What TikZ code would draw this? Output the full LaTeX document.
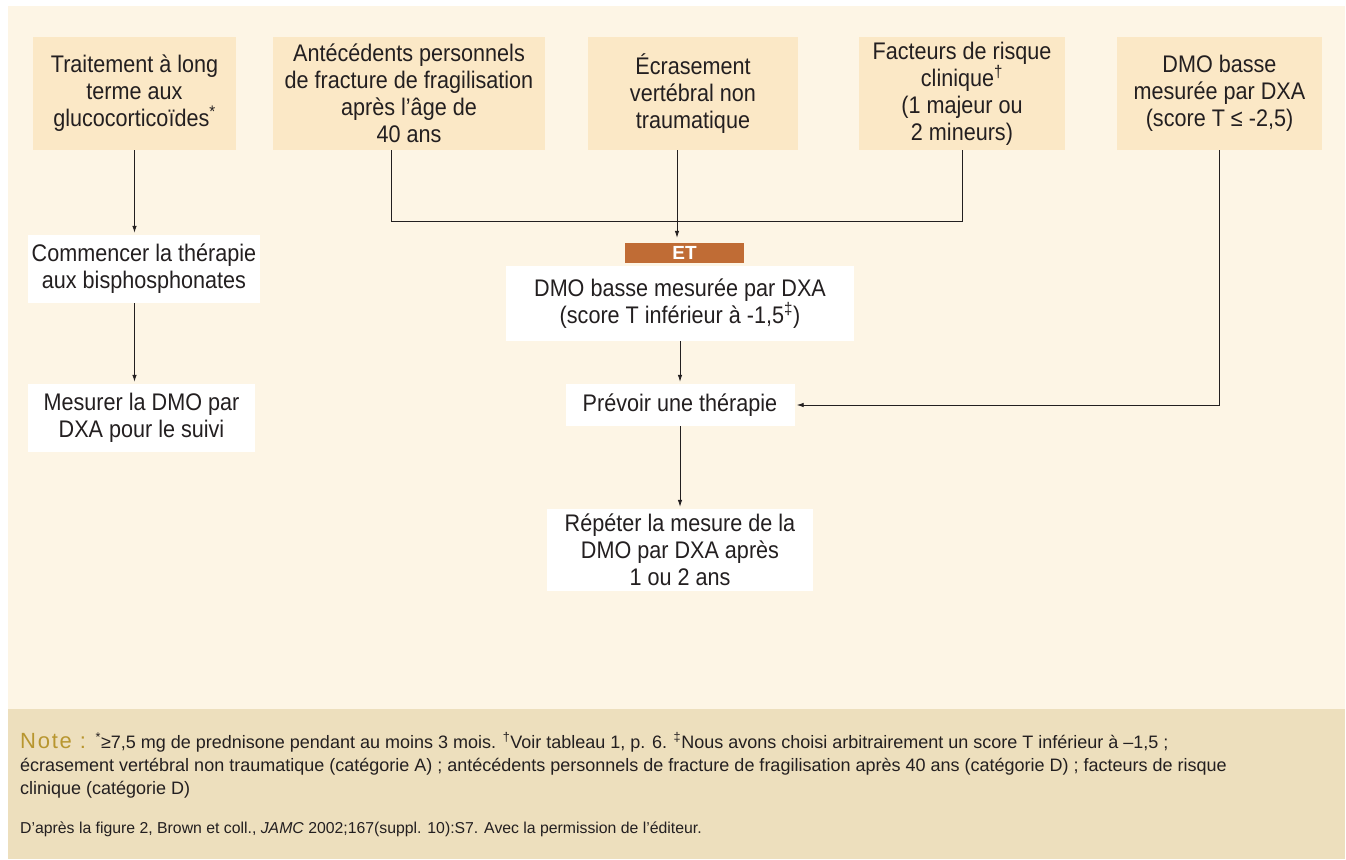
\documentclass[tikz,border=0pt]{standalone}
\usepackage{fontspec}
\setmainfont{Liberation Sans}[FakeStretch=0.9]
\newfontfamily\notefont{Liberation Sans}
\usetikzlibrary{arrows.meta}
\definecolor{panel}{HTML}{FDF5E5}
\definecolor{boxfill}{HTML}{FBE8C6}
\definecolor{notebg}{HTML}{EDDFBD}
\definecolor{etc}{HTML}{C06C35}
\definecolor{notelab}{HTML}{B8962F}
\definecolor{textc}{HTML}{231F20}
\tikzset{
  box/.style={fill=boxfill, align=center, inner sep=0pt, text=textc, font=\fontsize{24}{27}\selectfont},
  wbox/.style={fill=white, align=center, inner sep=0pt, text=textc, font=\fontsize{24}{27}\selectfont},
  etbox/.style={fill=etc, text=white, inner sep=0pt, font=\notefont\bfseries\fontsize{19}{20}\selectfont},
  conn/.style={draw=textc, line width=0.8pt},
  arr/.style={conn, -{Latex[length=7pt,width=4.5pt]}, shorten >=2pt},
}
\begin{document}
\begin{tikzpicture}[x=1pt,y=-1pt]
\useasboundingbox (0,0) rectangle (1346,859);
\fill[white] (0,0) rectangle (1346,859);
\fill[panel] (8,6) rectangle (1345,859);
\fill[notebg] (8,709) rectangle (1345,859);

% top row
\node[box, minimum width=203pt, minimum height=113pt] (b1) at (134.5,93.5)
  {Traitement à long\\terme aux\\glucocorticoïdes\textsuperscript{*}};
\node[box, minimum width=272pt, minimum height=113pt] (b2) at (409,93.5)
  {Antécédents personnels\\de fracture de fragilisation\\après l’âge de\\40 ans};
\node[box, minimum width=210pt, minimum height=113pt] (b3) at (693,93.5)
  {Écrasement\\vertébral non\\traumatique};
\node[box, minimum width=206pt, minimum height=113pt] (b4) at (962,93.5)
  {Facteurs de risque\\clinique\textsuperscript{†}\\(1 majeur ou\\2 mineurs)};
\node[box, minimum width=205pt, minimum height=113pt] (b5) at (1219.5,93.5)
  {DMO basse\\mesurée par DXA\\(score T ≤ -2,5)};

% left column
\node[wbox, minimum width=232pt, minimum height=68pt] (com) at (144,269)
  {Commencer la thérapie\\aux bisphosphonates};
\node[wbox, minimum width=227pt, minimum height=68pt] (mes) at (141.5,418)
  {Mesurer la DMO par\\DXA pour le suivi};

% centre column
\node[etbox, minimum width=119pt, minimum height=20pt] (et) at (684.5,253) {ET};
\node[wbox, minimum width=348pt, minimum height=75pt] (dmo) at (680,303.5)
  {DMO basse mesurée par DXA\\(score T inférieur à -1,5\textsuperscript{‡})};
\node[wbox, minimum width=229pt, minimum height=42pt] (pre) at (680,405)
  {Prévoir une thérapie};
\node[wbox, minimum width=266pt, minimum height=82pt] (rep) at (680,550)
  {Répéter la mesure de la\\DMO par DXA après\\1 ou 2 ans};

% connectors
\draw[arr] (b1.south) -- (b1.south |- com.north);
\draw[arr] (b1.south |- com.south) -- (b1.south |- mes.north);
\coordinate (jl) at ([xshift=-18pt]b2.south);
\draw[conn] (jl) -- ++(0,71) -| (b4.south);
\draw[arr, shorten >=5pt] ([xshift=-3pt]b3.south -| dmo.north) -- ([xshift=-3pt]dmo.north |- et.north);
\draw[arr] (dmo.south) -- (pre.north);
\draw[arr] (pre.south) -- (rep.north);
\draw[arr] (b5.south) -- (b5.south |- pre.east) -- (pre.east);

% note
\node[anchor=base west, align=left, inner sep=0pt, text=textc, font=\notefont\fontsize{18}{23}\selectfont] (note) at (20,794)
  {{\color{notelab}\addfontfeature{LetterSpace=8}\fontsize{22}{23}\selectfont Note :}\hspace{3pt} \textsuperscript{*}≥7,5 mg de prednisone pendant au moins 3 mois. \textsuperscript{†}Voir tableau 1, p. 6. \textsuperscript{‡}Nous avons choisi arbitrairement un score T inférieur à –1,5 ;\\
  écrasement vertébral non traumatique (catégorie A) ; antécédents personnels de fracture de fragilisation après 40 ans (catégorie D) ; facteurs de risque\\
  clinique (catégorie D)};
\node[anchor=base west, inner sep=0pt, text=textc, font=\notefont\fontsize{15.8}{18}\selectfont] (src) at (20,833)
  {D’après la figure 2, Brown et coll., \textit{JAMC} 2002;167(suppl. 10):S7. Avec la permission de l’éditeur.};
\end{tikzpicture}
\end{document}
